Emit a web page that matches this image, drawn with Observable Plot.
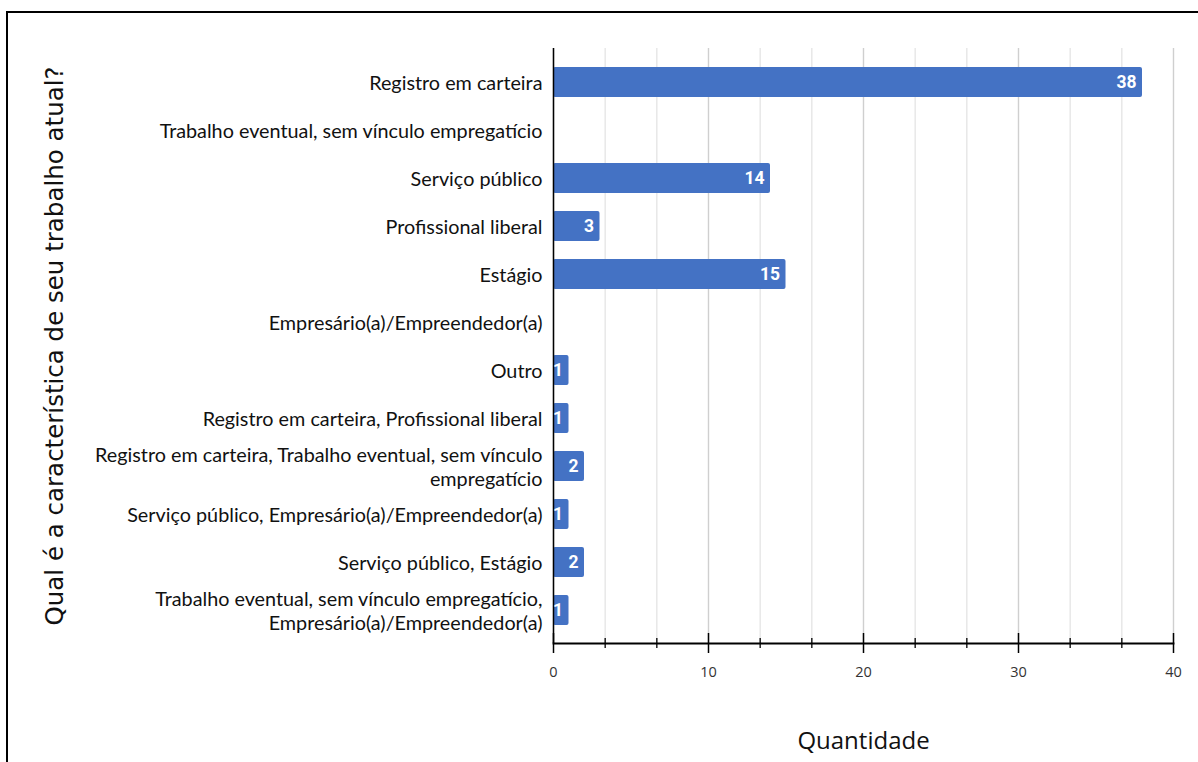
<!DOCTYPE html>
<html>
<head>
<meta charset="utf-8">
<script src="https://cdn.jsdelivr.net/npm/d3@7"></script>
<script src="https://cdn.jsdelivr.net/npm/@observablehq/plot@0.6"></script>
<style>
  html, body { margin: 0; padding: 0; background: #fff; overflow: hidden; width: 1198px; height: 762px; }
  #frame { position: absolute; left: 6px; top: 11px; width: 1300px; height: 900px; border: 2px solid #000; box-sizing: border-box; }
  #chart { position: absolute; left: 0; top: 0; }
</style>
</head>
<body>
<div id="frame"></div>
<div id="chart"></div>
<script>
// Answers to "Qual é a característica de seu trabalho atual?" (line breaks as drawn)
const categories = [
  "Registro em carteira",
  "Trabalho eventual, sem vínculo empregatício",
  "Serviço público",
  "Profissional liberal",
  "Estágio",
  "Empresário(a)/Empreendedor(a)",
  "Outro",
  "Registro em carteira, Profissional liberal",
  "Registro em carteira, Trabalho eventual, sem vínculo\nempregatício",
  "Serviço público, Empresário(a)/Empreendedor(a)",
  "Serviço público, Estágio",
  "Trabalho eventual, sem vínculo empregatício,\nEmpresário(a)/Empreendedor(a)"
];
const counts = [38, 0, 14, 3, 15, 0, 1, 1, 2, 1, 2, 1];
const xTickLabels = [0, 10, 20, 30, 40];

const yTitle = "Qual é a característica de seu trabalho atual?";
const xTitle = "Quantidade";

const data = categories.map((c, i) => ({category: c, count: counts[i]}));
const bars = data.filter(d => d.count > 0);

const gridStep = 10 / 3;
const gridAll = d3.range(0, 13).map(i => i * gridStep);
const gridMinor = gridAll.filter((d, i) => i % 3 !== 0);

const labelFont = "Lato, 'Open Sans', sans-serif";

const chart = Plot.plot({
  width: 1198,
  height: 762,
  marginLeft: 553,
  marginRight: 25,
  marginTop: 48,
  marginBottom: 119,
  style: {background: "transparent", fontFamily: labelFont},
  x: {domain: [0, 40], axis: null},
  y: {domain: categories, paddingInner: 0.378, paddingOuter: 0.36, axis: null},
  marks: [
    // vertical grid
    Plot.ruleX(gridMinor, {stroke: "#e2e2e2", strokeWidth: 1.2}),
    Plot.ruleX(xTickLabels, {stroke: "#cfcfcf", strokeWidth: 1.4}),
    // bars
    Plot.barX(bars, {x: "count", y: "category", fill: "#4472c4", rx: 2}),
    // axis lines
    Plot.ruleX([0], {stroke: "#000", strokeWidth: 1.5}),
    Plot.frame({anchor: "bottom", stroke: "#000", strokeWidth: 1.8}),
    // tick marks across the baseline
    Plot.ruleX(xTickLabels, {stroke: "#000", strokeWidth: 1.5, insetTop: 585, insetBottom: -10}),
    Plot.ruleX(gridMinor, {stroke: "#000", strokeWidth: 1.3, insetTop: 590, insetBottom: -5}),
    // x tick labels
    Plot.axisX({ticks: xTickLabels, tickSize: 0, tickPadding: 23, fontSize: 14.5, fill: "#333", label: null, fontFamily: "'Open Sans', sans-serif"}),
    // category labels
    Plot.text(categories, {x: 0, y: d => d, text: d => d, textAnchor: "end", dx: -11, fontSize: 19.8, lineHeight: 1.17, fill: "#111"}),
    // value labels inside the bars
    Plot.text(bars, {x: "count", y: "category", text: d => String(d.count), textAnchor: "end", dx: -6, fill: "#fff", fontSize: 17.5, fontWeight: "bold", fontFamily: "Roboto, sans-serif"}),
    // axis titles
    Plot.text([xTitle], {frameAnchor: "bottom", dy: 105, fontSize: 24, fill: "#111", fontFamily: "'Open Sans', sans-serif"}),
    Plot.text([yTitle], {frameAnchor: "left", textAnchor: "middle", dx: -498, rotate: -90, fontSize: 24.5, fill: "#111", fontFamily: "'DejaVu Sans', sans-serif"})
  ]
});
document.getElementById("chart").append(chart);
</script>
</body>
</html>
